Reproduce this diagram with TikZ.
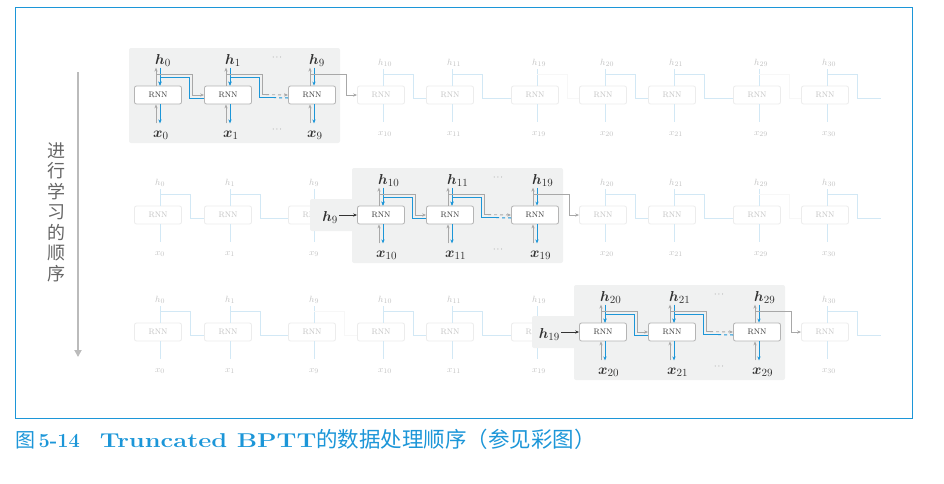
\documentclass[tikz,border=0pt]{standalone}
\usepackage{fontspec}
\usepackage{bm}
\usepackage{graphicx}
\newfontfamily\cjk{Noto Sans CJK SC}
\usetikzlibrary{arrows.meta,calc}
\definecolor{bpink}{HTML}{333333}
\definecolor{bpblue}{HTML}{1C96D8}
\definecolor{bpgray}{HTML}{A8A8A8}
\definecolor{bpedge}{HTML}{B4B4B4}
\definecolor{bppanel}{HTML}{F0F1F1}
\definecolor{bpfadeblue}{HTML}{D2E8F5}
\definecolor{bpfadetext}{HTML}{C2C2C2}
\definecolor{bpfadebox}{HTML}{ECECEC}
\definecolor{bpordline}{HTML}{BBBBBB}
\tikzset{
  bp box/.style={draw=bpedge, line width=0.8pt, rounded corners=2pt, fill=white,
    minimum width=47pt, minimum height=18pt, inner sep=0pt,
    font=\fontsize{8}{9}\selectfont, text=bpink},
  bp fade box/.style={bp box, draw=bpfadebox, text=bpfadetext},
  bp hlabel/.style={anchor=base west, inner sep=0pt, font=\fontsize{15.5}{18}\selectfont, text=bpink},
  bp fade label/.style={anchor=base west, inner sep=0pt, font=\fontsize{9.5}{11}\selectfont, text=bpfadetext},
  bp fwd/.style={-{Stealth[length=4pt,width=3.2pt]}, line width=0.9pt, draw=bpgray},
  bp back/.style={-{Stealth[length=4pt,width=3.2pt]}, line width=1pt, draw=bpblue},
  bp in/.style={-{Stealth[length=4pt,width=3.2pt]}, line width=0.8pt, draw=bpink},
  bp fade line/.style={line width=1pt, draw=bpfadeblue},
  bp faint line/.style={line width=0.8pt, draw=black!3},
  bp panel/.style={fill=bppanel, rounded corners=2pt},
  bp dots/.style={font=\fontsize{8}{9}\selectfont, text=bpink!80, inner sep=0pt},
  bp frame/.style={draw=bpblue, line width=0.9pt},
  bp order/.style={-{Triangle[length=7pt,width=7pt]}, line width=2.4pt, draw=bpordline},
  bp vtext/.style={font=\cjk\fontsize{18}{20.5}\selectfont, text=black!60, align=center, inner sep=0pt},
  bp caption/.style={anchor=base west, inner sep=0pt, font=\fontsize{20}{24}\selectfont\bfseries, text=bpblue}
}
\def\bpcols{0/158/0,1/228/1,2/312/9,3/381/10,4/450/11,5/535/19,6/603/20,7/672/21,8/757/29,9/825/30}

\begin{document}
\begin{tikzpicture}[x=1pt, y=1pt]
  \useasboundingbox (0,0) rectangle (944,-483);
  \draw[bp frame] (15,-7) rectangle (912,-418);

  % order of learning
  \coordinate (ordtop) at (78,-72);
  \coordinate (ordbot) at (78,-357);
  \draw[bp order] (ordtop) -- (ordbot);
  \node[bp vtext] (ordlabel) at (56,-212) {进\\行\\学\\习\\的\\顺\\序};

  % faded cells
  \foreach \r/\cy/\first in {1/95/0,2/215/3,3/332/6}{
    \foreach \c/\cx/\lab in \bpcols{
      \pgfmathtruncatemacro\bpon{(\c>=\first)&&(\c<=\first+2)}
      \ifnum\bpon=0
        \node[bp fade box] (b\r-\c) at (\cx,-\cy) {RNN};
        \node[bp fade label] (h\r-\c) at (\cx-3,-\cy+30) {$h_{\lab}$};
        \node[bp fade label] (x\r-\c) at (\cx-3,-\cy-40) {$x_{\lab}$};
        \draw[bp fade line] ($(b\r-\c.north)+(2,0)$) -- ++(0,17);
        \draw[bp fade line] ($(b\r-\c.south)+(2,0)$) -- ++(0,-18);
      \fi
    }
  }

  % faded links
  \foreach \r/\cy/\first in {1/95/0,2/215/3,3/332/6}{
    \foreach \c in {0,...,8}{
      \pgfmathtruncatemacro\nx{\c+1}
      \pgfmathtruncatemacro\bpon{(\nx<\first)||(\c>\first+2)}
      \pgfmathtruncatemacro\bpend{mod(\c,3)==2}
      \ifnum\bpon=1
        \ifnum\bpend=1
          \draw[bp faint line] ($(b\r-\c.north)+(2,11)$) -- ++(30,0) |- ($(b\r-\nx.west)+(0,-3)$);
        \else
          \draw[bp fade line] ($(b\r-\c.north)+(2,11)$) -- ++(30,0) |- ($(b\r-\nx.west)+(0,-3)$);
        \fi
      \fi
    }
    \coordinate (out\r) at ($(b\r-9.east)+(32,-3)$);
    \draw[bp fade line] ($(b\r-9.north)+(2,11)$) -- ++(30,0) |- (out\r);
  }

  % panels
  \foreach \r/\cy/\a/\b/\tab in {1/95/158/312/0,2/215/381/535/1,3/332/603/757/1}{
    \fill[bp panel] ({\a-29},{-\cy+47}) rectangle ({\b+28},{-\cy-48});
    \ifnum\tab=1
      \fill[bp panel] ({\a-71},{-\cy+16}) rectangle (\a,{-\cy-16});
    \fi
  }

  % active cells
  \foreach \r/\cy/\first in {1/95/0,2/215/3,3/332/6}{
    \foreach \c/\cx/\lab in \bpcols{
      \pgfmathtruncatemacro\bpon{(\c>=\first)&&(\c<=\first+2)}
      \ifnum\bpon=1
        \node[bp box] (b\r-\c) at (\cx,-\cy) {RNN};
        \node[bp hlabel] (h\r-\c) at (\cx-3,-\cy+31) {$\bm{h}_{\lab}$};
        \node[bp hlabel] (x\r-\c) at (\cx-5,-\cy-42) {$\bm{x}_{\lab}$};
        \draw[bp fwd] ($(b\r-\c.north)+(-2,0)$) -- ++(0,18);
        \draw[bp back] ($(b\r-\c.north)+(2,18)$) -- ++(0,-18);
        \draw[bp fwd] ($(b\r-\c.south)+(-2,-19)$) -- ++(0,19);
        \draw[bp back] ($(b\r-\c.south)+(2,0)$) -- ++(0,-19);
      \fi
    }
  }

  % active links
  \foreach \r/\cy/\first in {1/95/0,2/215/3,3/332/6}{
    \foreach \d in {0,1,2}{
      \pgfmathtruncatemacro\c{\first+\d}
      \pgfmathtruncatemacro\nx{\c+1}
      \ifnum\d=0
        \draw[bp fwd] ($(b\r-\c.north)+(-2,11)$) -- ++(36,0) |- (b\r-\nx.west);
        \draw[bp back] ($(b\r-\nx.west)+(0,-3)$) -| ($(b\r-\c.north)+(31,8)$)
          -- ($(b\r-\c.north)+(2,8)$) -- ($(b\r-\c.north)+(2,0)$);
      \fi
      \ifnum\d=1
        \draw[bp fwd, -] ($(b\r-\c.north)+(-2,11)$) -- ++(36,0) |- ($(b\r-\c.north)+(38,-9)$);
        \draw[bp fwd, dashed] ($(b\r-\c.north)+(38,-9)$) -- (b\r-\nx.west);
        \draw[bp back, -, dashed] ($(b\r-\nx.west)+(0,-3)$) -- ($(b\r-\c.north)+(46,-12)$);
        \draw[bp back] ($(b\r-\c.north)+(46,-12)$) -| ($(b\r-\c.north)+(31,8)$)
          -- ($(b\r-\c.north)+(2,8)$) -- ($(b\r-\c.north)+(2,0)$);
      \fi
      \ifnum\d=2
        \draw[bp fwd] ($(b\r-\c.north)+(-2,11)$) -- ++(36,0) |- (b\r-\nx.west);
      \fi
    }
  }

  % dots
  \foreach \r/\cy/\dx in {1/95/277,2/215/498,3/332/719}{
    \node[bp dots] (dt\r) at (\dx,-\cy+37) {$\cdots$};
    \node[bp dots] (db\r) at (\dx,-\cy-35) {$\cdots$};
  }

  % carried hidden state
  \foreach \r/\first/\lab in {2/3/9,3/6/19}{
    \node[bp hlabel, anchor=base east] (in\r) at ($(b\r-\first.west)+(-19,-6)$) {$\bm{h}_{\lab}$};
    \draw[bp in] ([xshift=1pt]in\r.east |- b\r-\first.west) -- (b\r-\first.west);
  }

  \node[bp caption] (caption) at (15,-447)
    {{\cjk\mdseries 图}\,5-14\quad \scalebox{1.27}[1]{Truncated BPTT}%
     {\cjk\mdseries\fontsize{21.5}{24}\selectfont 的数据处理顺序（参见彩图）}};
\end{tikzpicture}
\end{document}
